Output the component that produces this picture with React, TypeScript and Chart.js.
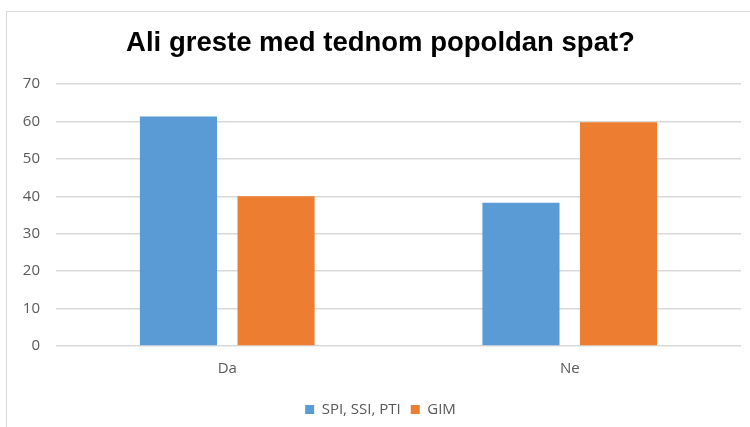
import React, { useEffect, useRef } from "react";
import { Chart, registerables } from "chart.js";

Chart.register(...registerables);

const titleText = "Ali greste med tednom popoldan spat?";
const categories = ["Da", "Ne"];
const seriesNames = ["SPI, SSI, PTI", "GIM"];
const spiValues = [61.3, 38.3];
const gimValues = [40, 59.8];
const yMax = 70;
const yStep = 10;

const BLUE = "#5B9BD5";
const ORANGE = "#ED7D31";
const TEXT = "#595959";
const GRID = "#D9D9D9";
const FONT = "'Open Sans', sans-serif";

export default function App() {
  const ref = useRef<HTMLCanvasElement | null>(null);

  useEffect(() => {
    if (!ref.current) return;
    const chart = new Chart(ref.current, {
      type: "bar",
      data: {
        labels: categories,
        datasets: [
          {
            label: seriesNames[0],
            data: spiValues,
            backgroundColor: BLUE,
            categoryPercentage: 0.57,
            barPercentage: 0.79,
          },
          {
            label: seriesNames[1],
            data: gimValues,
            backgroundColor: ORANGE,
            categoryPercentage: 0.57,
            barPercentage: 0.79,
          },
        ],
      },
      options: {
        animation: false,
        responsive: false,
        maintainAspectRatio: false,
        layout: { padding: { left: 20, right: 9, top: 0, bottom: 0 } },
        plugins: {
          title: {
            display: true,
            text: titleText,
            color: "#000000",
            font: { family: "'Liberation Sans', Arial, sans-serif", size: 27.5, weight: "bold" },
            padding: { top: 27, bottom: 24 },
          },
          legend: {
            display: true,
            position: "bottom",
            labels: {
              color: TEXT,
              font: { family: FONT, size: 15 },
              boxWidth: 9,
              boxHeight: 9,
              padding: 10,
            },
          },
          tooltip: { enabled: false },
        },
        scales: {
          x: {
            grid: { display: false, drawTicks: false },
            border: { display: false },
            ticks: {
              color: TEXT,
              font: { family: FONT, size: 15 },
              padding: 14,
            },
          },
          y: {
            min: 0,
            max: yMax,
            grid: { color: GRID, lineWidth: 1.5, drawTicks: false },
            border: { display: false },
            ticks: {
              stepSize: yStep,
              color: TEXT,
              font: { family: FONT, size: 15 },
              padding: 16,
            },
            afterFit: (s: any) => {
              s.width = 36;
            },
          },
        },
      },
    });
    return () => chart.destroy();
  }, []);

  return (
    <div
      style={{
        position: "fixed",
        left: 0,
        top: 0,
        width: 750,
        height: 427,
        overflow: "hidden",
        background: "#ffffff",
      }}
    >
      <div
        style={{
          position: "absolute",
          left: 6,
          top: 11,
          width: 800,
          height: 500,
          border: "1.5px solid #D9D9D9",
          boxSizing: "border-box",
        }}
      />
      <canvas
        ref={ref}
        width={750}
        height={427}
        style={{ position: "absolute", left: 0, top: 0, width: 750, height: 427 }}
      />
    </div>
  );
}
